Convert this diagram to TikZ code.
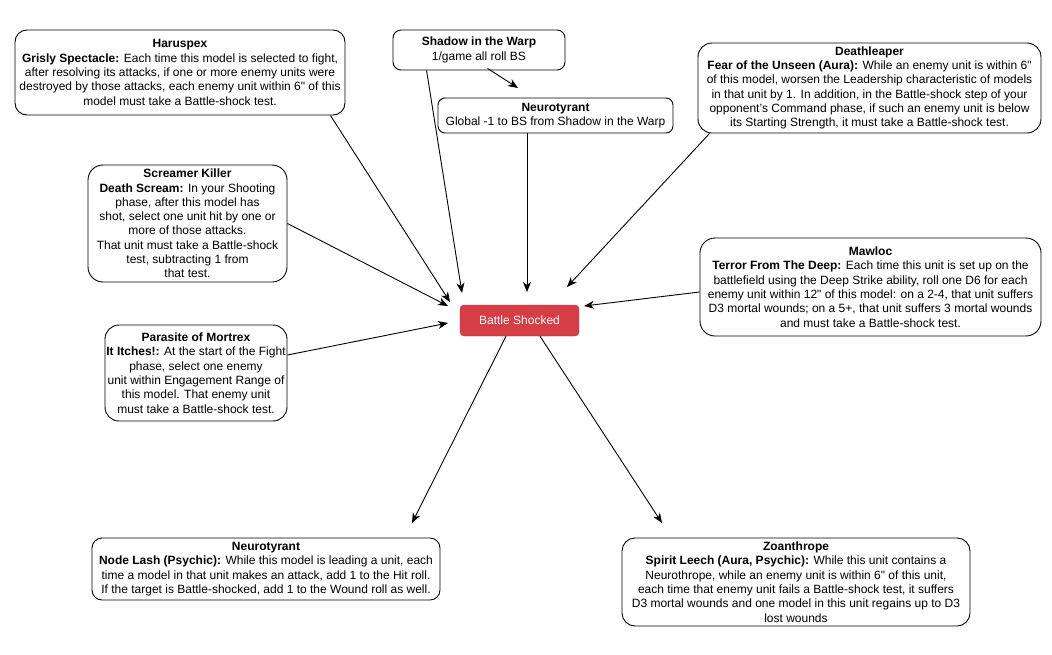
\documentclass[tikz,border=0pt]{standalone}
\usepackage{fontspec}
\setmainfont{Liberation Sans}
\usetikzlibrary{arrows.meta}
\definecolor{bsred}{RGB}{214,62,70}
\newcommand{\inch}{\textquotedbl}
\begin{document}
\begin{tikzpicture}[x=1pt, y=-1pt, >={Stealth[length=10pt,width=8pt,inset=3pt]},
    card/.style={draw, line width=0.9pt, rounded corners=12, align=center, inner sep=0pt,
        font=\fontsize{12}{14.3}\selectfont},
    arr/.style={->, line width=0.9pt}]
    \useasboundingbox (0,0) rectangle (1052,654);

    \node[card, minimum width=330, minimum height=85] (haru) at (180,72.5)
        {\textbf{Haruspex}\\ \textbf{Grisly Spectacle:} Each time this model is selected to fight,\\
        after resolving its attacks, if one or more enemy units were\\
        destroyed by those attacks, each enemy unit within 6\inch{} of this\\
        model must take a Battle-shock test.};
    \node[card, rounded corners=8, minimum width=172, minimum height=40] (shadow) at (479,50)
        {\textbf{Shadow in the Warp}\\ 1/game all roll BS};
    \node[card, rounded corners=7, minimum width=235, minimum height=35] (ntop) at (555.5,115.5)
        {\textbf{Neurotyrant}\\ Global -1 to BS from Shadow in the Warp};
    \node[card, rounded corners=14, minimum width=343, minimum height=90] (dleap) at (869.5,88)
        {\textbf{Deathleaper}\\ \textbf{Fear of the Unseen (Aura):} While an enemy unit is within 6\inch\\
        of this model, worsen the Leadership characteristic of models\\
        in that unit by 1. In addition, in the Battle-shock step of your\\
        opponent's Command phase, if such an enemy unit is below\\
        its Starting Strength, it must take a Battle-shock test.};
    \node[card, rounded corners=15, minimum width=199, minimum height=117] (scream) at (187.5,223.5)
        {\textbf{Screamer Killer}\\ \textbf{Death Scream:} In your Shooting\\
        phase, after this model has\\ shot, select one unit hit by one or\\
        more of those attacks.\\ That unit must take a Battle-shock\\
        test, subtracting 1 from\\ that test.};
    \node[card, rounded corners=15, minimum width=341, minimum height=98] (mawloc) at (870.5,287)
        {\textbf{Mawloc}\\ \textbf{Terror From The Deep:} Each time this unit is set up on the\\
        battlefield using the Deep Strike ability, roll one D6 for each\\
        enemy unit within 12\inch{} of this model: on a 2-4, that unit suffers\\
        D3 mortal wounds; on a 5+, that unit suffers 3 mortal wounds\\
        and must take a Battle-shock test.};
    \node[card, rounded corners=14, minimum width=182, minimum height=96] (para) at (196,373)
        {\textbf{Parasite of Mortrex}\\ \textbf{It Itches!:} At the start of the Fight\\
        phase, select one enemy\\ unit within Engagement Range of\\
        this model. That enemy unit\\ must take a Battle-shock test.};
    \node[draw=bsred!85!black, fill=bsred, rounded corners=4, text=white,
        minimum width=119, minimum height=31, font=\fontsize{12}{14}\selectfont] (bs) at (519.5,320.5)
        {Battle Shocked};
    \node[card, rounded corners=10, minimum width=348, minimum height=62] (nbot) at (266,569)
        {\textbf{Neurotyrant}\\ \textbf{Node Lash (Psychic):} While this model is leading a unit, each\\
        time a model in that unit makes an attack, add 1 to the Hit roll.\\
        If the target is Battle-shocked, add 1 to the Wound roll as well.};
    \node[card, rounded corners=13, minimum width=348, minimum height=88] (zoan) at (796,582)
        {\textbf{Zoanthrope}\\ \textbf{Spirit Leech (Aura, Psychic):} While this unit contains a\\
        Neurothrope, while an enemy unit is within 6\inch{} of this unit,\\
        each time that enemy unit fails a Battle-shock test, it suffers\\
        D3 mortal wounds and one model in this unit regains up to D3\\
        lost wounds};

    % arrow ends
    \coordinate (inHaru) at (450,302);
    \coordinate (inShadow) at (462,293);
    \coordinate (inNtop) at (518,88);
    \coordinate (inTop) at (527,292);
    \coordinate (inDleap) at (567,287);
    \coordinate (inScream) at (448,306);
    \coordinate (inMawloc) at (584,306);
    \coordinate (inPara) at (448,323);
    \coordinate (outNbot) at (412,523);
    \coordinate (outZoan) at (662,523);

    \draw[arr] ([xshift=-15]haru.south east) -- (inHaru);
    \draw[arr] ([xshift=34]shadow.south west) -- (inShadow);
    \draw[arr] ([xshift=95,yshift=2]shadow.south west) -- (inNtop);
    \draw[arr] ([xshift=-28.5]ntop.south) -- (inTop);
    \draw[arr] ([xshift=12]dleap.south west) -- (inDleap);
    \draw[arr] (scream.east) -- (inScream);
    \draw[arr] ([yshift=-5]mawloc.west) -- (inMawloc);
    \draw[arr] ([yshift=18]para.east) -- (inPara);
    \draw[arr] ([xshift=-13.5]bs.south) -- (outNbot);
    \draw[arr] ([xshift=20.5]bs.south) -- (outZoan);
\end{tikzpicture}
\end{document}
